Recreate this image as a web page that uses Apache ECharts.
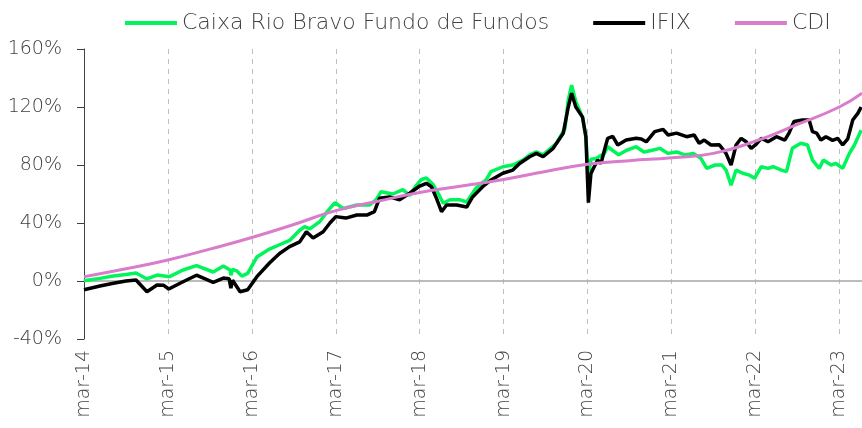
<!DOCTYPE html>
<html style="height: 100%">

<head>
    <meta charset="utf-8">
</head>

<body style="height: 100%; margin: 0; background: #fff">
    <div id="container" style="width: 862px; height: 428px"></div>
    <script type="text/javascript" src="https://cdn.jsdelivr.net/npm/echarts@6/dist/echarts.min.js"></script>
    <script type="text/javascript">
        // x = anos desde mar-14, y = retorno acumulado (%)
        var firstYear = 14;
        var lastT = 9.27;

        var caixa = [
            [0, 0.2], [0.19, 1.8], [0.35, 3.4], [0.5, 4.5], [0.62, 5.5], [0.75, 1.4], [0.87, 4.1],
            [1.02, 3.0], [1.18, 7.6], [1.34, 10.6], [1.54, 6.2], [1.66, 10.3], [1.74, 7.6], [1.75, 4],
            [1.77, 8], [1.82, 7], [1.88, 3.4], [1.95, 5.2], [2.06, 16.5], [2.21, 22], [2.33, 25],
            [2.45, 28], [2.57, 35], [2.63, 37.5], [2.69, 36], [2.81, 41], [2.9, 48], [2.99, 54],
            [3.09, 50], [3.25, 52.4], [3.4, 52.4], [3.48, 56], [3.54, 61.6], [3.68, 60], [3.8, 63],
            [3.88, 59], [3.96, 66], [4.02, 70], [4.08, 71], [4.16, 66.5], [4.22, 60.5], [4.28, 53.6],
            [4.36, 56], [4.48, 56], [4.56, 54.5], [4.67, 64], [4.79, 69.7], [4.85, 75.4], [4.99, 78.8],
            [5.11, 80], [5.23, 83.4], [5.31, 87], [5.39, 89], [5.47, 87], [5.63, 95], [5.73, 105],
            [5.77, 124.8], [5.81, 135], [5.86, 123.7], [5.94, 113], [5.98, 99.5], [6.01, 72], [6.04, 84],
            [6.1, 84.5], [6.2, 88], [6.24, 92.6], [6.3, 90], [6.37, 87], [6.46, 90], [6.58, 92.6],
            [6.67, 89], [6.76, 90], [6.86, 91.5], [6.96, 88], [7.06, 89], [7.16, 87], [7.26, 88],
            [7.35, 84.6], [7.42, 77.7], [7.52, 80], [7.6, 80], [7.65, 76.5], [7.71, 66], [7.77, 76.5],
            [7.85, 74.3], [7.93, 73], [7.99, 70.8], [8.07, 78.8], [8.15, 77.7], [8.21, 78.8], [8.31, 76.5],
            [8.37, 75.4], [8.44, 91.5], [8.54, 95], [8.62, 93.8], [8.68, 83.4], [8.76, 77.7], [8.81, 83.4],
            [8.9, 80], [8.96, 81], [9.04, 77.7], [9.12, 88], [9.18, 93.8], [9.26, 104]
        ];

        var ifix = [
            [0, -6], [0.19, -3.5], [0.35, -1.5], [0.5, 0], [0.62, 0.7], [0.75, -7.4], [0.87, -2.8],
            [0.95, -3], [1.01, -5.5], [1.18, -0.5], [1.34, 4], [1.54, -0.9], [1.66, 2], [1.73, 1.5],
            [1.75, -5], [1.77, 0.5], [1.86, -7.4], [1.95, -6], [2.06, 3], [2.21, 12.4], [2.33, 19],
            [2.45, 23.7], [2.57, 27], [2.65, 34], [2.73, 29.7], [2.85, 34], [2.93, 40], [3.0, 44.4],
            [3.12, 43.4], [3.25, 45.5], [3.37, 45.5], [3.46, 47.8], [3.52, 57], [3.64, 58], [3.76, 56],
            [3.88, 60.5], [4.0, 65.5], [4.08, 67.4], [4.14, 65], [4.2, 57], [4.26, 47.8], [4.32, 52.4],
            [4.44, 52.4], [4.56, 51], [4.63, 58], [4.75, 65], [4.85, 69.7], [4.99, 74.3], [5.11, 76.5],
            [5.19, 81], [5.31, 85.7], [5.39, 88], [5.47, 85.7], [5.59, 91.5], [5.71, 101.8], [5.77, 120],
            [5.81, 129.5], [5.86, 120], [5.94, 113], [5.98, 99.5], [6.01, 54], [6.04, 74], [6.06, 76.5],
            [6.12, 83.4], [6.16, 81], [6.2, 90], [6.24, 98.4], [6.3, 99.7], [6.36, 93.8], [6.46, 97.2],
            [6.58, 98.4], [6.64, 98], [6.7, 96], [6.8, 103], [6.9, 104.6], [6.96, 100.7], [7.06, 102],
            [7.18, 99.5], [7.27, 100.7], [7.33, 95], [7.39, 97.2], [7.47, 93.8], [7.57, 94], [7.65, 88],
            [7.71, 80], [7.77, 93.8], [7.83, 98.4], [7.89, 96], [7.95, 91.5], [8.0, 93.8], [8.07, 98.4],
            [8.15, 96], [8.25, 99.5], [8.35, 97.2], [8.4, 102], [8.46, 110], [8.56, 111], [8.64, 111],
            [8.68, 103], [8.73, 102], [8.78, 97.2], [8.84, 99.5], [8.92, 97], [8.98, 98.4], [9.04, 93.8],
            [9.1, 98], [9.16, 111], [9.22, 115.6], [9.26, 120]
        ];

        var cdi = [
            [0, 3], [0.5, 8.5], [1, 14.5], [1.5, 22], [2, 30], [2.5, 39], [3, 48.5], [3.5, 55],
            [4, 61], [4.5, 65.5], [5, 70], [5.5, 75.5], [6, 80.5], [6.5, 83], [7, 85], [7.5, 88],
            [8, 96.5], [8.5, 108], [9, 120], [9.27, 129.5]
        ];

        var yTicks = { min: -40, max: 160, step: 40 };

        var font = '"DejaVu Sans", sans-serif';
        var fontWeight = 200;
        var textColor = '#404040';

        var dom = document.getElementById("container");
        var myChart = echarts.init(dom);
        var option = {
            animation: false,
            textStyle: { fontFamily: font, fontWeight: fontWeight },
            legend: {
                left: 120,
                top: 7,
                icon: 'rect',
                itemWidth: 52,
                itemHeight: 4,
                itemGap: 44,
                textStyle: { fontSize: 22, color: textColor, fontFamily: font, fontWeight: fontWeight },
                data: ['Caixa Rio Bravo Fundo de Fundos', 'IFIX', 'CDI']
            },
            grid: {
                left: 84,
                right: 0,
                top: 49,
                bottom: 89
            },
            xAxis: [{
                type: 'value',
                min: 0,
                max: lastT,
                interval: 1,
                axisLine: { show: false, onZero: false },
                axisTick: { show: false },
                splitLine: {
                    show: true,
                    lineStyle: { color: '#c0c0c0', type: [5, 5], width: 1 }
                },
                axisLabel: {
                    rotate: 90,
                    margin: 11,
                    fontSize: 19,
                    color: textColor,
                    fontFamily: font,
                    fontWeight: fontWeight,
                    formatter: function (v) {
                        if (Math.abs(v - Math.round(v)) > 1e-6) return '';
                        return 'mar-' + (firstYear + Math.round(v));
                    }
                }
            }, {
                // linha do zero
                type: 'value',
                min: 0,
                max: lastT,
                position: 'top',
                axisLine: { show: true, onZero: true, lineStyle: { color: '#a6a6a6', width: 1.5 } },
                axisTick: { show: false },
                axisLabel: { show: false },
                splitLine: { show: false }
            }],
            yAxis: {
                type: 'value',
                min: yTicks.min,
                max: yTicks.max,
                interval: yTicks.step,
                axisLine: { show: true, lineStyle: { color: '#404040', width: 1 } },
                axisTick: { show: true, length: 7, lineStyle: { color: '#404040' } },
                splitLine: { show: false },
                axisLabel: {
                    margin: 22,
                    fontSize: 19,
                    color: textColor,
                    fontFamily: font,
                    fontWeight: fontWeight,
                    formatter: '{value}%'
                }
            },
            series: [{
                name: 'Caixa Rio Bravo Fundo de Fundos',
                type: 'line',
                showSymbol: false,
                symbol: 'none',
                color: '#00f55a',
                lineStyle: { width: 3.5, color: '#00f55a' },
                data: caixa
            }, {
                name: 'IFIX',
                type: 'line',
                showSymbol: false,
                symbol: 'none',
                color: '#000000',
                lineStyle: { width: 3.5, color: '#000000' },
                data: ifix
            }, {
                name: 'CDI',
                type: 'line',
                showSymbol: false,
                symbol: 'none',
                smooth: true,
                color: '#d97ccc',
                lineStyle: { width: 3, color: '#d97ccc' },
                data: cdi
            }]
        };
        myChart.setOption(option, true);
    </script>
</body>

</html>
